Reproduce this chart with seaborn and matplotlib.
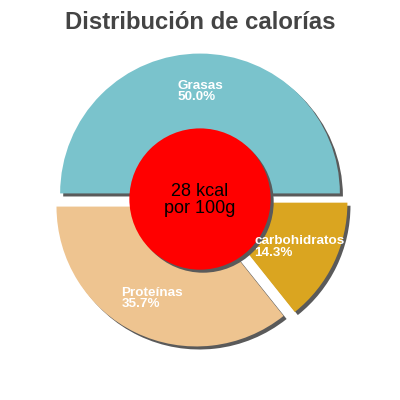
import matplotlib
matplotlib.use("Agg")
import matplotlib.pyplot as plt
import matplotlib.patheffects as pe
from matplotlib.patches import Circle
import seaborn as sns

sns.set_style("white")
plt.rcParams['font.family'] = ['Liberation Sans', 'DejaVu Sans']

# kcal per 100g by nutrient
nutrients = ["Grasas", "Proteínas", "carbohidratos"]
kcal = [14, 10, 4]
total_kcal = 28
colors = sns.color_palette(["#7ac3cc", "#eec490", "#daa520"])
explode = [0.04, 0.06, 0.06]

shadow = [pe.SimplePatchShadow(offset=(2.2, -2.2), shadow_rgbFace="#5a5a5a", alpha=1), pe.Normal()]

fig = plt.figure(figsize=(4, 4), dpi=100)
ax = fig.add_axes([0, 0, 1, 1])

pct = [100 * v / sum(kcal) for v in kcal]
labels = [f"{n}\n{p:.1f}%" for n, p in zip(nutrients, pct)]

wedges, texts = ax.pie(kcal, labels=labels, colors=colors, explode=explode,
                       startangle=0, counterclock=True, labeldistance=0.73,
                       wedgeprops={"linewidth": 0, "path_effects": shadow},
                       textprops={"color": "white", "fontsize": 9.7, "fontweight": "bold"})
for t in texts:
    t.set_ha("center")
    t.set_va("center")
    t.set_multialignment("left")
    t.set_linespacing(0.95)
    t.set_zorder(7)

centre = Circle((0, 0), 0.505, facecolor="#ff0000", edgecolor="none", zorder=5)
centre.set_path_effects(shadow)
ax.add_patch(centre)
ax.text(0, -0.01, f"{total_kcal} kcal\npor 100g", ha="center", va="center",
        fontsize=13, color="black", zorder=6, linespacing=1.0)

ax.set_xlim(-1.43, 1.43)
ax.set_ylim(-1.437, 1.423)
ax.set_aspect("equal")
ax.axis("off")

fig.text(0.5, 0.9275, "Distribución de calorías", ha="center", va="baseline",
         fontsize=17.2, fontweight="bold", color="#444444")

fig.savefig("out.png", dpi=100)
